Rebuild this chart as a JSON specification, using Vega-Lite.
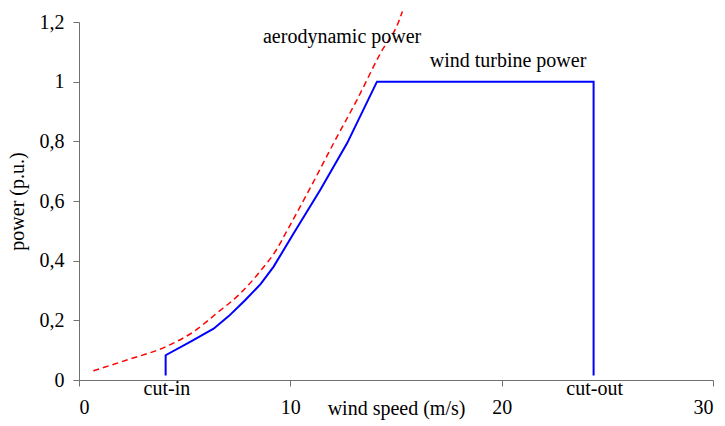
{
  "$schema": "https://vega.github.io/schema/vega-lite/v6.json",
  "autosize": {"type": "none"},
  "width": 634,
  "height": 358,
  "padding": {"left": 79, "top": 22, "right": 12, "bottom": 46},
  "background": "white",
  "config": {
    "view": {"stroke": null},
    "font": "Liberation Serif",
    "axis": {"grid": false, "domainColor": "#707070", "tickColor": "#707070", "labelColor": "black", "titleColor": "black", "labelFont": "Liberation Serif", "titleFont": "Liberation Serif", "labelFontSize": 20, "titleFontSize": 20, "titleFontWeight": "normal", "tickSize": 6}
  },
  "datasets": {
    "turbine": [
      {"v": 4.1, "p": 0.015, "o": 1},
      {"v": 4.1, "p": 0.083, "o": 2},
      {"v": 5.26, "p": 0.128, "o": 3},
      {"v": 6.37, "p": 0.172, "o": 4},
      {"v": 7.1, "p": 0.215, "o": 5},
      {"v": 7.87, "p": 0.268, "o": 6},
      {"v": 8.6, "p": 0.322, "o": 7},
      {"v": 9.21, "p": 0.38, "o": 8},
      {"v": 10.16, "p": 0.492, "o": 9},
      {"v": 11.42, "p": 0.638, "o": 10},
      {"v": 12.69, "p": 0.794, "o": 11},
      {"v": 14.1, "p": 1.0, "o": 12},
      {"v": 24.35, "p": 1.0, "o": 13},
      {"v": 24.35, "p": 0.015, "o": 14}
    ],
    "aero": [
      {"v": 0.68, "p": 0.031},
      {"v": 2.26, "p": 0.067},
      {"v": 4.12, "p": 0.112},
      {"v": 5.42, "p": 0.162},
      {"v": 6.52, "p": 0.224},
      {"v": 7.63, "p": 0.29},
      {"v": 8.58, "p": 0.365},
      {"v": 9.37, "p": 0.44},
      {"v": 9.84, "p": 0.5},
      {"v": 10.95, "p": 0.645},
      {"v": 12.05, "p": 0.794},
      {"v": 13.16, "p": 0.94},
      {"v": 14.27, "p": 1.096},
      {"v": 15.13, "p": 1.202},
      {"v": 15.3, "p": 1.235}
    ],
    "labels": [
      {"v": 12.45, "p": 1.15, "label": "aerodynamic power"},
      {"v": 20.3, "p": 1.07, "label": "wind turbine power"},
      {"v": 4.16, "p": -0.03, "label": "cut-in"},
      {"v": 24.4, "p": -0.03, "label": "cut-out"}
    ]
  },
  "layer": [
    {
      "data": {"name": "aero"},
      "mark": {"type": "line", "color": "#ff0000", "strokeWidth": 1.5, "strokeDash": [6, 4], "interpolate": "monotone"},
      "encoding": {
        "x": {"field": "v", "type": "quantitative", "scale": {"domain": [0, 30], "nice": false}, "axis": {"values": [0, 10, 20, 30], "title": "wind speed (m/s)", "labelPadding": 11, "titlePadding": -19}},
        "y": {"field": "p", "type": "quantitative", "scale": {"domain": [0, 1.2], "nice": false}, "axis": {"values": [0, 0.2, 0.4, 0.6, 0.8, 1, 1.2], "labelExpr": "replace(format(datum.value, '.1~f'), '.', ',')", "title": "power (p.u.)", "labelPadding": 9, "titlePadding": 12}}
      }
    },
    {
      "data": {"name": "turbine"},
      "mark": {"type": "line", "color": "#0000ff", "strokeWidth": 2},
      "encoding": {
        "x": {"field": "v", "type": "quantitative"},
        "y": {"field": "p", "type": "quantitative"},
        "order": {"field": "o", "type": "quantitative"}
      }
    },
    {
      "data": {"name": "labels"},
      "mark": {"type": "text", "font": "Liberation Serif", "fontSize": 20, "color": "black", "baseline": "middle", "align": "center"},
      "encoding": {
        "x": {"field": "v", "type": "quantitative"},
        "y": {"field": "p", "type": "quantitative"},
        "text": {"field": "label"}
      }
    }
  ]
}
